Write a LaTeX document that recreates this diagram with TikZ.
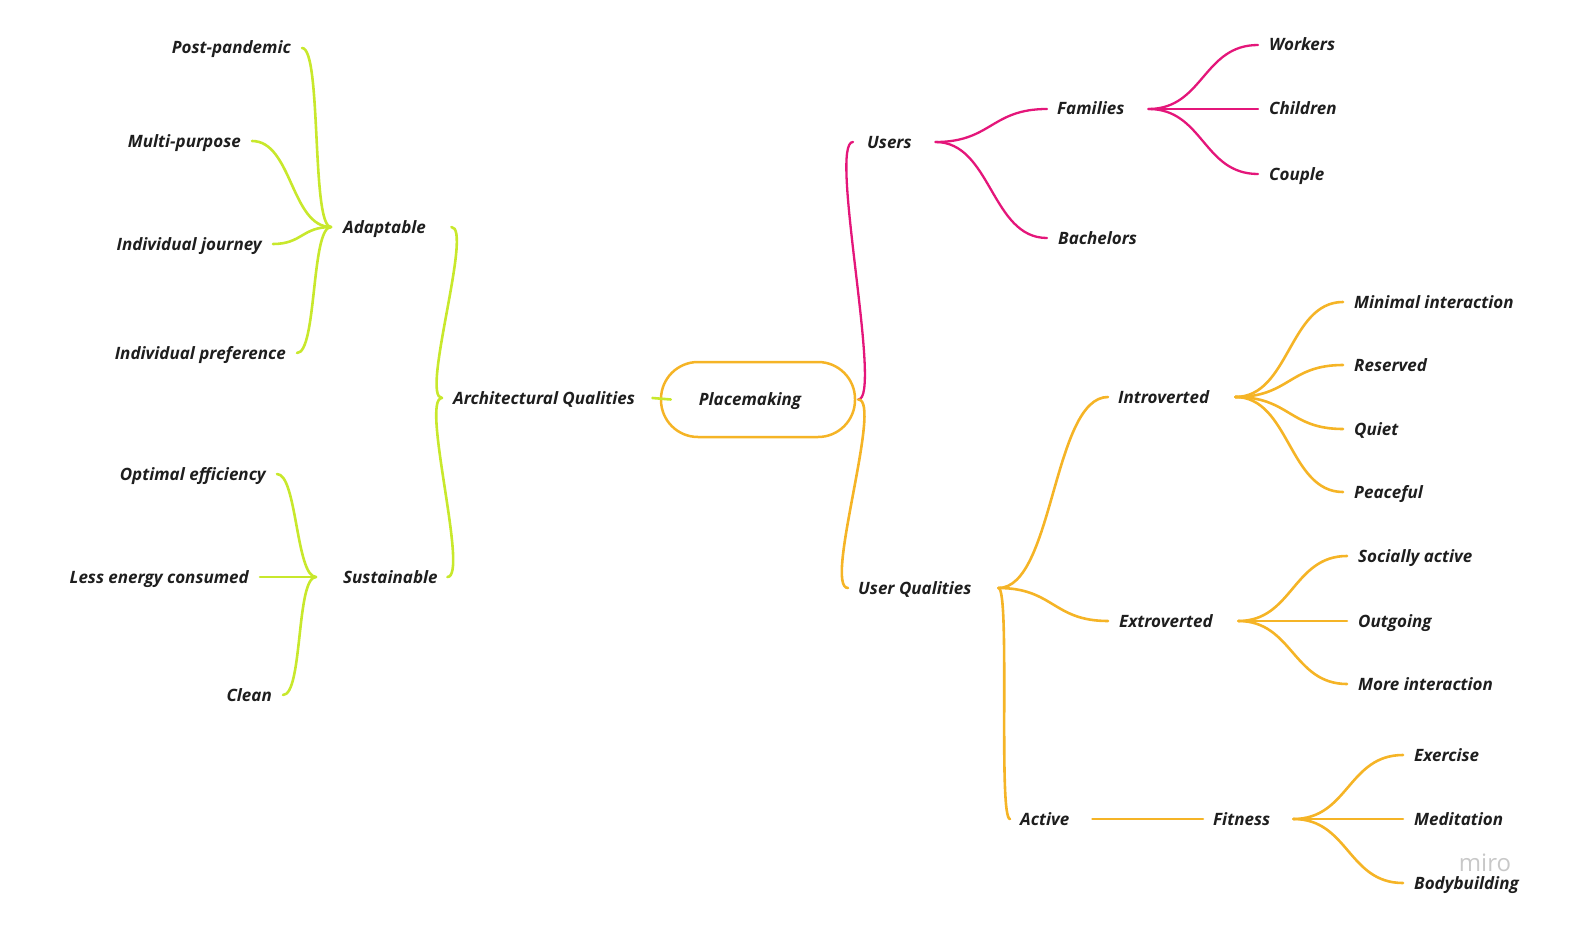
\documentclass[tikz,border=0pt]{standalone}
\usepackage{fontspec}
\setmainfont{Open Sans}
\definecolor{lime}{RGB}{200,232,44}
\definecolor{mag}{RGB}{228,22,122}
\definecolor{amber}{RGB}{245,180,38}
\definecolor{ink}{RGB}{30,30,30}
\definecolor{wmgray}{RGB}{200,200,200}
\tikzset{
  lbl/.style={font=\fontsize{17pt}{20pt}\selectfont\bfseries\itshape, text=ink, text height=12pt, text depth=0pt, inner ysep=0pt},
  leafR/.style={lbl, anchor=west, inner xsep=11pt},
  leafL/.style={lbl, anchor=east, inner xsep=11pt},
  hubnode/.style={lbl, anchor=west, inner xsep=0pt},
  gline/.style={draw=lime, line width=2.6pt, line cap=round},
  pline/.style={draw=mag, line width=2.3pt, line cap=round},
  yline/.style={draw=amber, line width=2.6pt, line cap=round},
}
\newcommand\hubtext[3]{\makebox[#1pt][l]{\hspace*{#2pt}#3}}
\newcommand\mmlink[4]{\draw[#1] (#2) .. controls +(#4,0) and +(-#4,0) .. (#3);}
\begin{document}
\begin{tikzpicture}[x=1pt,y=-1pt]
\useasboundingbox (0,0) rectangle (1584,947);
% central node
\node[lbl, draw=amber, fill=white, line width=2.5pt, rounded corners=37pt, minimum width=194pt, minimum height=75pt, inner sep=0pt] (pm) at (758,399.5) {Placemaking\hspace*{16pt}};
% left branch
\node[hubnode] (aq) at (442,398) {\hubtext{210}{11}{Architectural Qualities}};
\node[hubnode] (adapt) at (331,227) {\hubtext{120}{12}{Adaptable}};
\node[hubnode] (sust) at (316,577) {\hubtext{131}{27}{Sustainable}};
\node[leafL] (post) at (302,48) {Post-pandemic};
\node[leafL] (multi) at (252,141) {Multi-purpose};
\node[leafL] (journey) at (273,244) {Individual journey};
\node[leafL] (pref) at (297,353) {Individual preference};
\node[leafL] (optimal) at (277,474) {Optimal efficiency};
\node[leafL] (less) at (260,577) {Less energy consumed};
\node[leafL] (clean) at (283,695) {Clean};
% right upper branch
\node[hubnode] (users) at (853,142) {\hubtext{82}{14}{Users}};
\node[hubnode] (fam) at (1047,109) {\hubtext{101}{10}{Families}};
\node[leafR] (bach) at (1047,238) {Bachelors};
\node[leafR] (work) at (1258,45) {Workers};
\node[leafR] (child) at (1258,109) {Children};
\node[leafR] (couple) at (1258,174) {Couple};
% right lower branch
\node[hubnode] (uq) at (848,588) {\hubtext{150}{10}{User Qualities}};
\node[hubnode] (intro) at (1108,397) {\hubtext{127}{10}{Introverted}};
\node[hubnode] (extro) at (1108,621) {\hubtext{130}{11}{Extroverted}};
\node[hubnode] (active) at (1010,819) {\hubtext{82}{10}{Active}};
\node[hubnode] (fit) at (1203,819) {\hubtext{90}{10}{Fitness}};
\node[leafR] (minimal) at (1343,302) {Minimal interaction};
\node[leafR] (reserved) at (1343,365) {Reserved};
\node[leafR] (quiet) at (1343,429) {Quiet};
\node[leafR] (peace) at (1343,492) {Peaceful};
\node[leafR] (social) at (1347,556) {Socially active};
\node[leafR] (outgo) at (1347,621) {Outgoing};
\node[leafR] (more) at (1347,684) {More interaction};
\node[leafR] (exer) at (1403,755) {Exercise};
\node[leafR] (medi) at (1403,819) {Meditation};
\node[leafR] (body) at (1403,883) {Bodybuilding};
\node[font=\fontsize{24pt}{28pt}\selectfont, text=wmgray, inner sep=0pt] (wm) at (1485,863) {miro};
% green connectors
\mmlink{gline}{post.east}{adapt.west}{20}
\mmlink{gline}{multi.east}{adapt.west}{40}
\mmlink{gline}{journey.east}{adapt.west}{29}
\mmlink{gline}{pref.east}{adapt.west}{20}
\mmlink{gline}{optimal.east}{sust.west}{20}
\draw[gline] (less.east) -- (sust.west);
\mmlink{gline}{clean.east}{sust.west}{20}
\mmlink{gline}{adapt.east}{aq.west}{22}
\mmlink{gline}{sust.east}{aq.west}{22}
\draw[gline] (aq.east) -- ([xshift=11pt]pm.west);
% pink connectors
\mmlink{pline}{[xshift=2pt]pm.east}{users.west}{25}
\mmlink{pline}{users.east}{fam.west}{56}
\mmlink{pline}{users.east}{bach.west}{56}
\mmlink{pline}{fam.east}{work.west}{55}
\draw[pline] (fam.east) -- (child.west);
\mmlink{pline}{fam.east}{couple.west}{55}
% yellow connectors
\mmlink{yline}{[xshift=2pt]pm.east}{uq.west}{25}
\mmlink{yline}{uq.east}{intro.west}{55}
\mmlink{yline}{uq.east}{extro.west}{55}
\mmlink{yline}{uq.east}{active.west}{12}
\mmlink{yline}{intro.east}{minimal.west}{54}
\mmlink{yline}{intro.east}{reserved.west}{54}
\mmlink{yline}{intro.east}{quiet.west}{54}
\mmlink{yline}{intro.east}{peace.west}{54}
\mmlink{yline}{extro.east}{social.west}{54}
\draw[yline] (extro.east) -- (outgo.west);
\mmlink{yline}{extro.east}{more.west}{54}
\draw[yline] (active.east) -- (fit.west);
\mmlink{yline}{fit.east}{exer.west}{55}
\draw[yline] (fit.east) -- (medi.west);
\mmlink{yline}{fit.east}{body.west}{55}
\end{tikzpicture}
\end{document}
